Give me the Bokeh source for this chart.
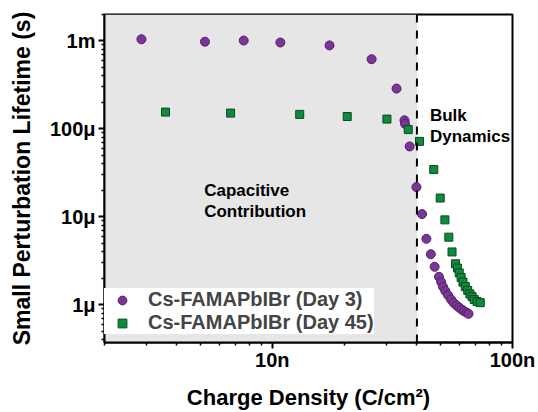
from bokeh.plotting import figure
from bokeh.models import (Range1d, FixedTicker, CustomJSTickFormatter, BoxAnnotation,
                          Span, Label, Legend, LegendItem)
from bokeh.embed import file_html
from bokeh.resources import INLINE

# ---- data ----
day3_charge = [2.85e-9, 5.24e-9, 7.6e-9, 1.08e-8, 1.73e-8, 2.59e-8, 3.29e-8, 3.55e-8, 3.57e-8,
               3.73e-8, 3.98e-8, 4.20e-8, 4.38e-8, 4.57e-8, 4.74e-8, 4.94e-8, 5.05e-8, 5.14e-8,
               5.25e-8, 5.39e-8, 5.55e-8, 5.69e-8, 5.85e-8, 6.00e-8, 6.15e-8, 6.28e-8, 6.43e-8, 6.56e-8]
day3_lifetime = [1.045e-3, 0.98e-3, 1.01e-3, 0.96e-3, 0.89e-3, 6.2e-4, 2.87e-4, 1.25e-4, 1.14e-4,
                 6.3e-5, 2.17e-5, 1.07e-5, 5.6e-6, 3.74e-6, 2.69e-6, 2.07e-6, 1.80e-6, 1.59e-6,
                 1.43e-6, 1.28e-6, 1.14e-6, 1.045e-6, 0.975e-6, 0.923e-6, 0.876e-6, 0.842e-6, 0.81e-6, 0.785e-6]

day45_charge = [3.59e-9, 6.70e-9, 1.30e-8, 2.05e-8, 3.00e-8, 3.68e-8, 4.10e-8, 4.70e-8, 5.00e-8,
                5.23e-8, 5.43e-8, 5.60e-8, 5.79e-8, 5.90e-8, 6.00e-8, 6.11e-8, 6.22e-8, 6.36e-8,
                6.51e-8, 6.65e-8, 6.79e-8, 6.93e-8, 7.12e-8, 7.34e-8]
day45_lifetime = [1.55e-4, 1.51e-4, 1.46e-4, 1.38e-4, 1.29e-4, 9.8e-5, 7.2e-5, 3.44e-5, 1.63e-5,
                  9.2e-6, 5.85e-6, 3.97e-6, 2.91e-6, 2.60e-6, 2.29e-6, 2.03e-6, 1.80e-6, 1.60e-6,
                  1.45e-6, 1.32e-6, 1.23e-6, 1.14e-6, 1.08e-6, 1.05e-6]

series_names = ["Cs-FAMAPbIBr (Day 3)", "Cs-FAMAPbIBr (Day 45)"]

x_major = [1e-8, 1e-7]
x_labels = ["10n", "100n"]
x_minor = [2e-9, 3e-9, 4e-9, 5e-9, 6e-9, 7e-9, 8e-9, 9e-9,
           2e-8, 3e-8, 4e-8, 5e-8, 6e-8, 7e-8, 8e-8, 9e-8]
y_major = [1e-6, 1e-5, 1e-4, 1e-3]
y_labels = ["1μ", "10μ", "100μ", "1m"]
y_minor = [4e-7, 5e-7, 6e-7, 7e-7, 8e-7, 9e-7,
           2e-6, 3e-6, 4e-6, 5e-6, 6e-6, 7e-6, 8e-6, 9e-6,
           2e-5, 3e-5, 4e-5, 5e-5, 6e-5, 7e-5, 8e-5, 9e-5,
           2e-4, 3e-4, 4e-4, 5e-4, 6e-4, 7e-4, 8e-4, 9e-4, 2e-3]

boundary_charge = 4e-8

FONT = "Liberation Sans"

p = figure(width=538, height=412, x_axis_type="log", y_axis_type="log",
           x_range=Range1d(2e-9, 1e-7), y_range=Range1d(3.7e-7, 2e-3),
           output_backend="svg", toolbar_location=None,
           min_border_left=104, min_border_right=26, min_border_top=14, min_border_bottom=67)

p.xgrid.visible = False
p.ygrid.visible = False
p.outline_line_color = "black"
p.outline_line_width = 2
p.background_fill_color = "white"

# shaded capacitive region and boundary
p.add_layout(BoxAnnotation(right=boundary_charge, fill_color="#e6e6e6", fill_alpha=1.0,
                           line_color=None, level="underlay"))
p.add_layout(Span(location=boundary_charge, dimension="height", line_color="black",
                  line_width=2, line_dash="8 8"))

fmt_code = """
let best = 0; let bd = Infinity;
for (let i = 0; i < vals.length; i++) {
  const d = Math.abs(Math.log10(tick) - Math.log10(vals[i]));
  if (d < bd) { bd = d; best = i; }
}
return labs[best];
"""

xa = p.xaxis[0]
xa.ticker = FixedTicker(ticks=x_major, minor_ticks=x_minor)
xa.formatter = CustomJSTickFormatter(args=dict(vals=x_major, labs=x_labels), code=fmt_code)
ya = p.yaxis[0]
ya.ticker = FixedTicker(ticks=y_major, minor_ticks=y_minor)
ya.formatter = CustomJSTickFormatter(args=dict(vals=y_major, labs=y_labels), code=fmt_code)

for ax in (xa, ya):
    ax.axis_line_width = 2
    ax.axis_line_color = "black"
    ax.major_tick_line_width = 2
    ax.minor_tick_line_width = 1.5
    ax.major_tick_out = 6
    ax.major_tick_in = 0
    ax.minor_tick_out = 3
    ax.minor_tick_in = 0
    ax.major_label_text_font = FONT
    ax.major_label_text_font_style = "bold"
    ax.major_label_text_font_size = "20px"
    ax.major_label_text_color = "black"
    ax.axis_label_text_font = FONT
    ax.axis_label_text_font_style = "bold"
    ax.axis_label_text_color = "black"

xa.axis_label = "Charge Density (C/cm²)"
xa.axis_label_text_font_size = "22px"
xa.major_label_standoff = 0
xa.axis_label_standoff = 11
ya.axis_label = "Small Perturbation Lifetime (s)"
ya.axis_label_text_font_size = "23px"
ya.major_label_standoff = 3
ya.axis_label_standoff = 12

r1 = p.scatter(day3_charge, day3_lifetime, marker="circle", size=9,
               fill_color="#7B3594", line_color="#55206B", line_width=1)
r2 = p.scatter(day45_charge, day45_lifetime, marker="square", size=8,
               fill_color="#0E8B3C", line_color="#0A4A22", line_width=1)

for txt, xv, yv in [("Capacitive", 5.2e-9, 1.99e-5), ("Contribution", 5.2e-9, 1.15e-5),
                    ("Bulk", 4.53e-8, 1.42e-4), ("Dynamics", 4.53e-8, 8.1e-5)]:
    p.add_layout(Label(x=xv, y=yv, text=txt, text_font=FONT, text_font_style="bold",
                       text_font_size="17px", text_baseline="middle", text_color="black"))

legend = Legend(items=[LegendItem(label=series_names[0], renderers=[r1]),
                       LegendItem(label=series_names[1], renderers=[r2])],
                location=(0, 8), margin=0, padding=5, spacing=0,
                glyph_width=36, glyph_height=22, label_height=22, label_standoff=8,
                label_text_font=FONT, label_text_font_style="bold", label_text_font_size="20px",
                background_fill_color="white", background_fill_alpha=1.0,
                border_line_color=None)
p.add_layout(legend)

open("out.html", "w").write(file_html(p, INLINE))
